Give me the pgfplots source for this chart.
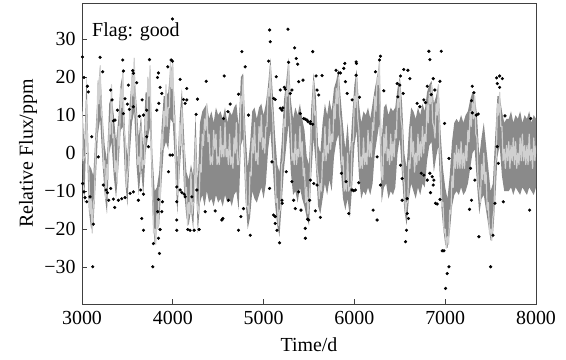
\documentclass[border=0pt]{standalone}
\usepackage{fontspec}
\setmainfont{Liberation Serif}
\usepackage{pgfplots}
\usepackage{pgfplotstable}
\usepgfplotslibrary{fillbetween}
\pgfplotsset{compat=1.18}
\definecolor{bandgray}{RGB}{138,138,138}
\definecolor{linegray}{RGB}{208,208,208}
\pgfplotstableread{
x hi lo
3000 15 0
3025 2 -13
3050 20 6
3075 -3 -15
3100 -4 -20
3125 -6 -19
3150 6 -8
3175 17 5
3200 23 9
3225 10 -2
3250 2 -11
3275 -2 -16
3300 13 0
3325 15 3
3350 10 -6
3375 3 -12
3400 9 -4
3425 18 6
3450 21 7
3475 5 -7
3500 -1 -14
3525 13 -1
3550 20 8
3575 22 11
3600 13 -3
3625 4 -11
3650 10 -4
3675 1 -11
3700 16 0
3725 16 4
3750 22 7
3775 0 -15
3800 -10 -24
3825 -9 -20
3850 -5 -19
3875 6 -8
3900 15 1
3925 15 3
3950 16 1
3975 23 9
4000 22 8
4025 11 -3
4050 -3 -16
4075 9 -5
4100 17 4
4125 4 -10
4150 -5 -17
4175 -7 -19
4200 -3 -15
4225 -6 -20
4250 10 -4
4275 -8 -21
4300 8 -13
4325 11 -11
4350 12 -14
4375 13 -10
4400 9 -13
4425 11 -12
4450 8 -14
4475 12 -11
4500 10 -13
4525 11 -12
4550 9 -14
4575 12 -11
4600 8 -13
4625 11 -12
4650 10 -14
4675 12 -11
4700 13 -10
4725 7 -15
4750 20 2
4775 21 4
4800 6 -12
4825 -4 -20
4850 2 -17
4875 11 -10
4900 12 -12
4925 9 -13
4950 12 -11
4975 13 -9
5000 10 -12
5025 13 -8
5050 18 1
5075 25 6
5100 16 -3
5125 5 -13
5150 -3 -19
5175 -5 -22
5200 3 -13
5225 14 -4
5250 19 2
5275 25 8
5300 14 -5
5325 9 -11
5350 12 -10
5375 10 -13
5400 13 -9
5425 9 -12
5450 6 -14
5475 -1 -17
5500 -3 -19
5525 12 -6
5550 21 4
5575 15 -3
5600 2 -14
5625 0 -16
5650 8 -12
5675 13 -8
5700 10 -11
5725 14 -7
5750 11 -10
5775 17 -1
5800 19 3
5825 22 5
5850 14 -4
5875 7 -12
5900 1 -15
5925 8 -12
5950 -1 -17
5975 9 -9
6000 18 2
6025 22 6
6050 13 -6
6075 8 -12
6100 11 -10
6125 10 -11
6150 12 -9
6175 9 -11
6200 13 -8
6225 17 0
6250 20 4
6275 24 8
6300 3 -13
6325 12 -9
6350 13 -8
6375 10 -12
6400 12 -10
6425 11 -11
6450 12 -9
6475 17 0
6500 20 4
6525 13 -6
6550 0 -15
6575 -4 -19
6600 6 -12
6625 12 -8
6650 11 -10
6675 9 -12
6700 12 -9
6725 10 -11
6750 13 -8
6775 11 -9
6800 16 -2
6825 18 2
6850 19 3
6875 13 -5
6900 15 -1
6925 18 2
6950 5 -12
6975 -4 -19
7000 -9 -24
7025 -12 -25
7050 -6 -21
7075 3 -14
7100 8 -11
7125 9 -10
7150 8 -11
7175 10 -9
7200 8 -11
7225 10 -10
7250 11 -8
7275 14 -4
7300 16 0
7325 15 1
7350 10 -8
7375 -1 -16
7400 4 -12
7425 8 -11
7450 2 -15
7475 -4 -19
7500 -10 -23
7525 -8 -22
7550 4 -13
7575 15 -1
7600 15 2
7625 11 -6
7650 8 -10
7675 9 -10
7700 9 -10
7725 11 -9
7750 8 -11
7775 10 -9
7800 9 -10
7825 11 -11
7850 8 -9
7875 10 -10
7900 9 -11
7925 11 -9
7950 8 -10
7975 10 -11
8000 9 -9
}\band
\pgfplotstableread{
x v
3000 11
3012.5 -2
3025 -1
3037.5 -1
3050 14
3062.5 -1
3075 -4
3087.5 -16
3100 -12
3112.5 -21
3125 -13
3137.5 -12
3150 3
3162.5 4
3175 19
3187.5 13
3200 23
3212.5 10
3225 9
3237.5 -4
3250 -2
3262.5 -12
3275 -3
3287.5 -7
3300 8
3312.5 5
3325 18
3337.5 4
3350 5
3362.5 -5
3375 -2
3387.5 -8
3400 7
3412.5 2
3425 17
3437.5 12
3450 22
3462.5 6
3475 4
3487.5 -9
3500 -6
3512.5 -3
3525 12
3537.5 9
3550 21
3562.5 15
3575 25
3587.5 12
3600 9
3612.5 -3
3625 -1
3637.5 -5
3650 7
3662.5 -4
3675 -2
3687.5 -3
3700 11
3712.5 6
3725 20
3737.5 15
3750 23
3762.5 2
3775 -6
3787.5 -21
3800 -20
3812.5 -24
3825 -16
3837.5 -20
3850 -9
3862.5 -12
3875 5
3887.5 1
3900 11
3912.5 7
3925 18
3937.5 7
3950 12
3962.5 12
3975 24
3987.5 17
4000 24
4012.5 8
4025 10
4037.5 -8
4050 -11
4062.5 -9
4075 8
4087.5 2
4100 12
4112.5 1
4125 2
4137.5 -11
4150 -9
4162.5 -19
4175 -13
4187.5 -16
4200 -5
4212.5 -16
4225 -13
4237.5 -13
4250 4
4262.5 -12
4275 -15
4287.5 -16
4300 -3
4312.5 -5
4325 5
4337.5 2
4350 9
4362.5 6
4375 13
4387.5 3
4400 5
4412.5 -3
4425 -1
4437.5 -3
4450 6
4462.5 1
4475 5
4487.5 -3
4500 -1
4512.5 -3
4525 7
4537.5 -1
4550 2
4562.5 -1
4575 8
4587.5 -1
4600 1
4612.5 -3
4625 5
4637.5 -3
4650 -1
4662.5 -4
4675 4
4687.5 0
4700 8
4712.5 -3
4725 -3
4737.5 1
4750 15
4762.5 13
4775 20
4787.5 3
4800 -3
4812.5 -14
4825 -14
4837.5 -16
4850 -5
4862.5 -6
4875 4
4887.5 0
4900 8
4912.5 -2
4925 0
4937.5 -3
4950 7
4962.5 3
4975 10
4987.5 1
5000 4
5012.5 0
5025 7
5037.5 7
5050 17
5062.5 15
5075 23
5087.5 13
5100 10
5112.5 -2
5125 -2
5137.5 -13
5150 -12
5162.5 -19
5175 -15
5187.5 -15
5200 -3
5212.5 -2
5225 9
5237.5 7
5250 17
5262.5 15
5275 24
5287.5 12
5300 8
5312.5 -2
5325 0
5337.5 -3
5350 5
5362.5 -3
5375 1
5387.5 -1
5400 7
5412.5 -1
5425 3
5437.5 -6
5450 -4
5462.5 -13
5475 -9
5487.5 -16
5500 -13
5512.5 -8
5525 8
5537.5 8
5550 19
5562.5 10
5575 11
5587.5 -4
5600 -6
5612.5 -12
5625 -8
5637.5 -10
5650 0
5662.5 -2
5675 7
5687.5 -2
5700 2
5712.5 0
5725 9
5737.5 1
5750 5
5762.5 3
5775 13
5787.5 9
5800 17
5812.5 13
5825 20
5837.5 10
5850 8
5862.5 -3
5875 -1
5887.5 -10
5900 -8
5912.5 -10
5925 0
5937.5 -10
5950 -9
5962.5 -9
5975 3
5987.5 3
6000 15
6012.5 12
6025 20
6037.5 9
6050 6
6062.5 -4
6075 -1
6087.5 -4
6100 4
6112.5 -3
6125 0
6137.5 -3
6150 6
6162.5 -1
6175 3
6187.5 -1
6200 8
6212.5 6
6225 15
6237.5 11
6250 20
6262.5 18
6275 25
6287.5 6
6300 -6
6312.5 -7
6325 5
6337.5 0
6350 7
6362.5 -2
6375 1
6387.5 -3
6400 5
6412.5 -2
6425 3
6437.5 -1
6450 6
6462.5 4
6475 15
6487.5 12
6500 19
6512.5 9
6525 7
6537.5 -6
6550 -8
6562.5 -16
6575 -13
6587.5 -13
6600 -2
6612.5 -4
6625 7
6637.5 -1
6650 3
6662.5 -5
6675 0
6687.5 -3
6700 5
6712.5 -2
6725 3
6737.5 -1
6750 7
6762.5 0
6775 5
6787.5 3
6800 13
6812.5 8
6825 16
6837.5 13
6850 18
6862.5 8
6875 7
6887.5 4
6900 13
6912.5 10
6925 18
6937.5 3
6950 -3
6962.5 -14
6975 -13
6987.5 -21
7000 -20
7012.5 -25
7025 -22
7037.5 -24
7050 -15
7062.5 -16
7075 -6
7087.5 -9
7100 0
7112.5 -4
7125 2
7137.5 -4
7150 1
7162.5 -4
7175 3
7187.5 -4
7200 0
7212.5 -4
7225 2
7237.5 -2
7250 6
7262.5 3
7275 11
7287.5 7
7300 14
7312.5 9
7325 15
7337.5 5
7350 4
7362.5 -8
7375 -10
7387.5 -13
7400 -3
7412.5 -7
7425 0
7437.5 -8
7450 -5
7462.5 -15
7475 -13
7487.5 -21
7500 -20
7512.5 -23
7525 -17
7537.5 -15
7550 -3
7562.5 -1
7575 13
7587.5 10
7600 16
7612.5 7
7625 7
7637.5 -2
7650 1
7662.5 -4
7675 2
7687.5 -2
7700 3
7712.5 -4
7725 2
7737.5 -2
7750 4
7762.5 -3
7775 3
7787.5 -4
7800 0
7812.5 -3
7825 4
7837.5 -2
7850 5
7862.5 -2
7875 2
7887.5 -3
7900 2
7912.5 -3
7925 5
7937.5 -2
7950 1
7962.5 -4
7975 4
7987.5 -2
8000 2
}\lightline
\pgfplotstableread{
x y
3005 25.3
3199 25.2
3449 24.5
3743 24.6
3228 21.4
3022 19.9
3456 21.6
3559 21.7
3566 21.0
3059 17.6
3070 16.1
3316 16.6
3511 17.9
3603 18.5
3331 14.0
3474 14.3
3500 12.9
3662 14.0
3831 19.9
3846 13.1
3390 11.3
3364 8.7
3346 8.5
3456 10.4
3522 11.5
3677 10.0
3566 12.2
3632 9.7
3713 11.3
3824 11.3
3007 -8.0
3022 -10.2
3033 -11.7
3088 -11.5
3052 -12.8
3235 -8.4
3265 -9.7
3280 -10.4
3316 -9.3
3294 -12.4
3346 -12.1
3360 -14.3
3401 -12.4
3438 -12.0
3474 -11.7
3530 -10.6
3566 -10.2
3621 -12.4
3647 -9.7
3677 -10.8
3125 -18.7
3658 -17.2
3677 -20.3
3787 -23.8
3842 -22.4
3853 -26.4
3118 -29.9
3780 -29.9
3732 1.7
3713 4.3
3107 4.3
3180 -1.0
3996 35.3
3982 24.5
3996 24.2
3945 22.7
4081 19.4
4154 17.0
4368 18.9
4566 20.3
4272 14.2
4257 10.2
4118 14.1
4136 13.1
4154 14.0
3842 21.1
3860 17.3
3879 15.7
4632 12.9
4607 10.9
4559 9.1
3970 -0.5
3996 -0.5
3952 -4.9
4044 -8.9
4081 -9.7
4100 -10.4
4136 -11.5
4125 -10.8
4210 -11.5
4265 -9.7
4044 -12.8
3886 -12.8
3842 -12.2
3834 -15.4
3879 -15.4
3860 -20.1
4044 -17.6
4044 -20.3
4165 -20.1
4190 -20.3
4235 -20.3
4290 -20.1
4357 -15.4
4467 -15.2
4540 -17.6
4551 -17.2
4614 -12.4
5066 32.4
5073 29.3
5268 32.6
4761 26.7
4797 22.7
5055 24.2
5275 23.9
5342 27.7
5360 24.9
5375 23.4
5139 20.1
5228 17.3
5386 18.8
5434 19.2
5183 11.8
5202 11.3
5213 11.9
4724 15.5
4834 10.0
5110 14.4
5128 14.1
5239 16.8
5312 16.6
5294 15.7
5404 10.4
5441 9.1
5478 8.7
5515 8.3
5183 16.6
4779 -14.6
4750 -16.7
4724 -20.3
4853 -21.6
5066 -9.3
5092 -2.3
5110 -16.3
5128 -16.7
5128 -18.5
5147 -20.3
5176 -23.6
5202 -12.4
5205 -13.2
5250 -4.9
5312 -7.5
5331 -12.4
5349 -14.6
5386 -10.2
5412 -15.0
5459 -19.8
5485 -17.4
5507 -12.4
5541 26.7
5578 20.3
5644 20.4
5798 21.8
5828 21.1
5846 21.1
5894 23.6
5883 22.3
6019 24.0
6023 23.6
6019 20.5
6287 25.5
6276 24.5
6232 21.4
5589 16.6
5607 15.3
5901 18.8
5920 15.7
6056 14.7
6324 16.4
5460 8.9
5489 8.3
5515 7.8
5541 7.6
5975 14.0
5497 -17.6
5570 -15.2
5625 -16.9
5460 -22.4
5515 -7.1
5552 -8.0
5589 -8.4
5857 -5.3
5909 -7.5
5975 -9.7
5993 -9.9
6012 -9.7
5938 -15.9
6048 -7.8
6206 -15.0
6250 -17.6
6287 -8.4
6250 -1.0
6820 26.8
6956 26.8
6831 24.6
6544 22.0
6589 21.8
6611 19.6
6508 20.3
6471 18.3
6500 17.9
6537 15.7
6478 14.8
6868 19.6
6942 18.9
6802 17.6
6846 15.4
6886 16.6
6765 14.0
6783 13.3
6993 7.8
6691 13.1
6721 12.2
6508 -3.2
6526 -6.7
6526 -12.4
6581 -12.0
6581 -15.9
6596 -17.2
6574 -20.3
6563 -23.3
6765 -5.8
6802 -7.1
6831 -5.3
6857 -6.2
6875 -7.1
6868 -8.4
6838 -10.4
6894 -13.2
6912 -13.4
6942 -12.2
6967 -25.7
6986 -25.7
7041 -29.9
7022 -31.7
7004 -35.6
7041 -1.4
6736 -5.3
7298 17.6
7316 15.9
7290 13.8
7298 10.6
7342 10.0
7364 10.3
7566 19.8
7599 20.3
7629 19.6
7574 18.3
7599 17.3
7658 9.8
7941 9.1
7290 -12.4
7268 -14.8
7371 -22.0
7500 -29.9
7526 -21.6
7640 -12.8
7930 -15.0
7327 -7.1
7279 -4.0
7585 -2.7
7573 1.7
7548 -13.2
}\outliers
\begin{document}
\begin{tikzpicture}[font=\fontsize{20}{24}\selectfont]
\begin{axis}[
  scale only axis, width=454bp, height=301bp,
  xmin=3000, xmax=8000, ymin=-39.7, ymax=39.5,
  xtick={3000,4000,5000,6000,7000,8000},
  xticklabels={3000,4000,5000,6000,7000,8000},
  ytick={-30,-20,-10,0,10,20,30},
  yticklabels={−30,−20,−10,0,10,20,30},
  scaled x ticks=false,
  tick align=inside, xtick pos=bottom, ytick pos=left,
  major tick length=5bp,
  axis line style={black!75, line width=0.8bp},
  tick style={black!75, line width=0.8bp},
  xticklabel style={yshift=-4bp},
  yticklabel style={xshift=-3bp},
  xlabel={Time/d}, ylabel={Relative Flux/ppm},
  xlabel style={at={(axis description cs:0.5,0)}, anchor=base, yshift=-47.7bp},
  ylabel style={at={(axis description cs:-0.108,0.5)}, anchor=base},
]
\addplot[name path=H, draw=none, forget plot] table[x=x,y=hi]{\band};
\addplot[name path=B, draw=none, forget plot] table[x=x,y=lo]{\band};
\addplot[fill=bandgray, draw=none] fill between[of=H and B];
\addplot[linegray, line width=1.2bp, mark=none, line join=round] table[x=x,y=v]{\lightline};
\addplot[only marks, mark=*, mark size=1.4bp, black] table[x=x,y=y]{\outliers};
\node[anchor=base west, inner sep=0pt] at (rel axis cs:0.022,0.89) {Flag: good};
\end{axis}
\pgfresetboundingbox
\path ([shift={(-82bp,-55bp)}]current axis.south west) rectangle ([shift={(30bp,3bp)}]current axis.north east);
\end{tikzpicture}
\end{document}
